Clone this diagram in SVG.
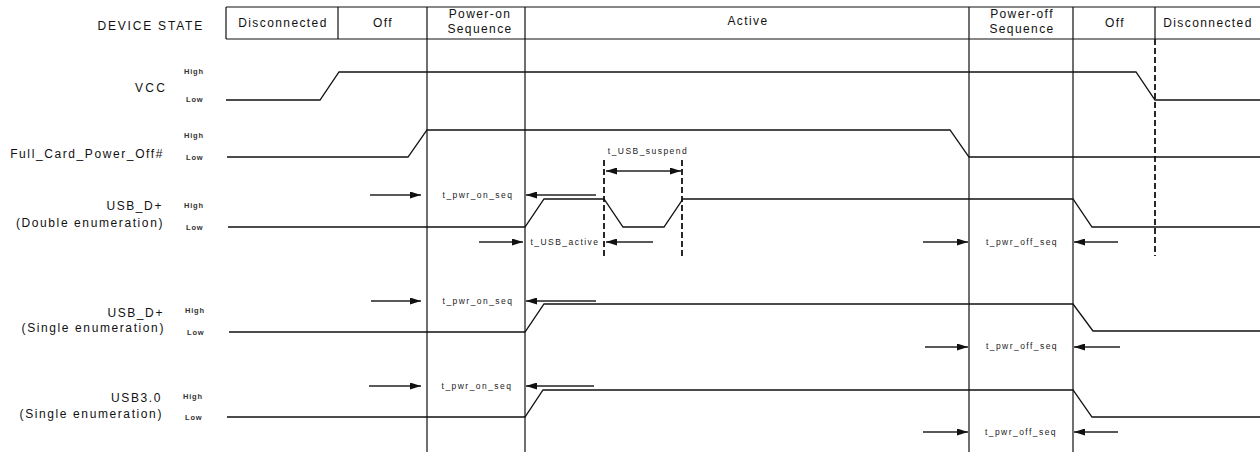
<svg xmlns="http://www.w3.org/2000/svg" width="1260" height="452" viewBox="0 0 1260 452">
<style>
text{font-family:"Liberation Sans",Arial,sans-serif;fill:#111}
.hd{font-size:12px;letter-spacing:1.4px;text-anchor:middle}
.lbl{font-size:12px;letter-spacing:1.6px;text-anchor:end}
.hl{font-size:7.5px;letter-spacing:0.8px;font-weight:bold;fill:#333}
.tm{font-size:8.5px;letter-spacing:1.45px;text-anchor:middle;fill:#222}
.ln{stroke:#111;stroke-width:1.2;fill:none}
.sig{stroke:#111;stroke-width:1.3;fill:none;stroke-linejoin:miter}
.dash{stroke:#111;stroke-width:1.8;stroke-dasharray:6,3;fill:none}
.arr{stroke:#222;stroke-width:1.3;fill:none;marker-end:url(#ah)}
</style>
<defs>
<marker id="ah" markerUnits="userSpaceOnUse" markerWidth="11" markerHeight="7" refX="11" refY="3.5" orient="auto-start-reverse">
<path d="M0,0 L11,3.5 L0,7 z" fill="#111"/>
</marker>
</defs>
<rect width="1260" height="452" fill="#fff"/>

<g id="header">
<text x="204" y="30" class="lbl" style="letter-spacing:1.8px">DEVICE STATE</text>
<path class="ln" d="M226,7 H1260 M226,39 H1260 M226,7 V39 M338,7 V39 M1155,7 V39"/>
<g id="state-disconnected-1"><text x="283" y="26.5" class="hd">Disconnected</text></g>
<g id="state-off-1"><text x="383" y="26.5" class="hd">Off</text></g>
<g id="state-power-on"><text x="480" y="18" class="hd">Power-on</text><text x="480" y="32.5" class="hd">Sequence</text></g>
<g id="state-active"><text x="748" y="25" class="hd">Active</text></g>
<g id="state-power-off"><text x="1022" y="18" class="hd">Power-off</text><text x="1022" y="32.5" class="hd">Sequence</text></g>
<g id="state-off-2"><text x="1115" y="26.5" class="hd">Off</text></g>
<g id="state-disconnected-2"><text x="1208" y="26.5" class="hd">Disconnected</text></g>
</g>

<g id="grid">
<path class="ln" d="M427,7 V452 M525,7 V452 M969,7 V452 M1073,7 V452"/>
<path class="dash" d="M1155,39 V256 M604,160 V256 M682,160 V256"/>
</g>

<g id="vcc">
<text x="167" y="92" class="lbl" style="letter-spacing:2.2px">VCC</text>
<text x="184" y="73.5" class="hl">High</text>
<text x="186" y="101.5" class="hl">Low</text>
<path class="sig" d="M226,100 H320 L339,72 H1136 L1155,100 H1260"/>
</g>

<g id="full-card-power-off">
<text x="164" y="158" class="lbl">Full_Card_Power_Off#</text>
<text x="184" y="137.5" class="hl">High</text>
<text x="186" y="159.5" class="hl">Low</text>
<path class="sig" d="M227,157 H408 L427,130 H950 L969,157 H1260"/>
</g>

<g id="usb-dp-double">
<text x="163" y="210" class="lbl">USB_D+</text>
<text x="164" y="227" class="lbl">(Double enumeration)</text>
<text x="184" y="207.5" class="hl">High</text>
<text x="186" y="229.5" class="hl">Low</text>
<path class="sig" d="M228,227 H525 L544,199 H604 L623,227 H664 L683,199 H1073 L1092,227 H1260"/>
<text x="478" y="198" class="tm">t_pwr_on_seq</text>
<text x="565" y="245" class="tm">t_USB_active</text>
<text x="648" y="154" class="tm">t_USB_suspend</text>
<text x="1022" y="245" class="tm">t_pwr_off_seq</text>
</g>

<g id="usb-dp-single">
<text x="164" y="317" class="lbl">USB_D+</text>
<text x="165" y="332" class="lbl">(Single enumeration)</text>
<text x="185" y="312.5" class="hl">High</text>
<text x="187" y="334.5" class="hl">Low</text>
<path class="sig" d="M229,332 H525 L544,304 H1073 L1093,331 H1260"/>
<text x="478" y="304" class="tm">t_pwr_on_seq</text>
<text x="1022" y="349" class="tm">t_pwr_off_seq</text>
</g>

<g id="usb3">
<text x="162" y="402" class="lbl">USB3.0</text>
<text x="163" y="418" class="lbl">(Single enumeration)</text>
<text x="183" y="398.5" class="hl">High</text>
<text x="185" y="419.5" class="hl">Low</text>
<path class="sig" d="M227,417 H525 L543,390 H1073 L1092,417 H1260"/>
<text x="477" y="389" class="tm">t_pwr_on_seq</text>
<text x="1021" y="435" class="tm">t_pwr_off_seq</text>
</g>

<g id="connectors">
<path class="arr" d="M370,195 H421"/>
<path class="arr" d="M596,195 H526"/>
<path class="arr" d="M479,242 H523"/>
<path class="arr" d="M653,242 H606"/>
<path class="arr" d="M606,171 H681" style="marker-start:url(#ah)"/>
<path class="arr" d="M923,242 H968"/>
<path class="arr" d="M1118,242 H1074"/>
<path class="arr" d="M371,301 H421"/>
<path class="arr" d="M596,301 H526"/>
<path class="arr" d="M925,347 H968"/>
<path class="arr" d="M1120,347 H1074"/>
<path class="arr" d="M369,386 H421"/>
<path class="arr" d="M594,386 H526"/>
<path class="arr" d="M923,432 H968"/>
<path class="arr" d="M1118,432 H1074"/>
</g>
</svg>
